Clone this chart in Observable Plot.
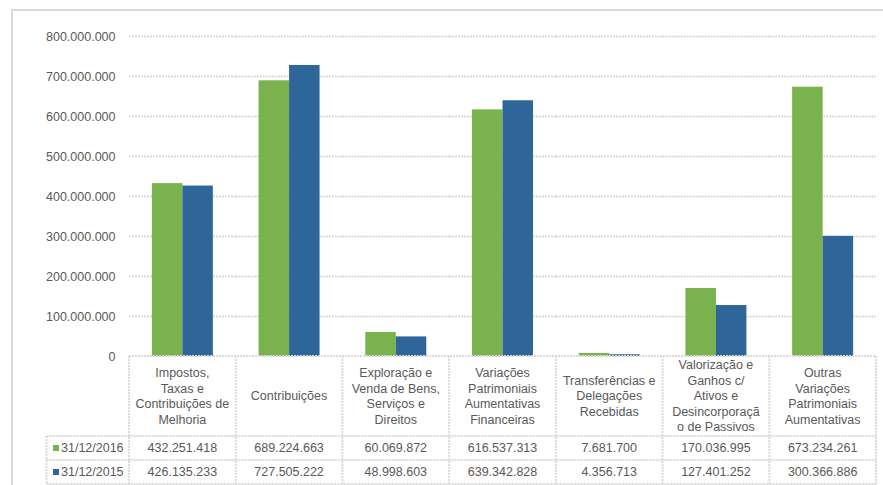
<!DOCTYPE html>
<html>
<head>
<meta charset="utf-8">
<script src="https://cdn.jsdelivr.net/npm/d3@7"></script>
<script src="https://cdn.jsdelivr.net/npm/@observablehq/plot@0.6"></script>
<style>
  html, body { margin: 0; padding: 0; background: #fff; }
  #chart { width: 883px; height: 485px; }
</style>
</head>
<body>
<div id="chart"></div>
<script>
// Variações patrimoniais aumentativas, 2016 x 2015
const categories = [
  "Impostos, Taxas e Contribuições de Melhoria",
  "Contribuições",
  "Exploração e Venda de Bens, Serviços e Direitos",
  "Variações Patrimoniais Aumentativas Financeiras",
  "Transferências e Delegações Recebidas",
  "Valorização e Ganhos c/ Ativos e Desincorporação de Passivos",
  "Outras Variações Patrimoniais Aumentativas"
];
const categoryLines = [
  ["Impostos,", "Taxas e", "Contribuições de", "Melhoria"],
  ["Contribuições"],
  ["Exploração e", "Venda de Bens,", "Serviços e", "Direitos"],
  ["Variações", "Patrimoniais", "Aumentativas", "Financeiras"],
  ["Transferências e", "Delegações", "Recebidas"],
  ["Valorização e", "Ganhos c/", "Ativos e", "Desincorporaçã", "o de Passivos"],
  ["Outras", "Variações", "Patrimoniais", "Aumentativas"]
];
const seriesNames = ["31/12/2016", "31/12/2015"];
const seriesColors = ["#7ab24e", "#2e6699"];
const values2016 = [432251418, 689224663, 60069872, 616537313, 7681700, 170036995, 673234261];
const values2015 = [426135233, 727505222, 48998603, 639342828, 4356713, 127401252, 300366886];
const yTicks = [0, 100000000, 200000000, 300000000, 400000000, 500000000, 600000000, 700000000, 800000000];

const fmt = d => d3.format(",")(d).replace(/,/g, ".");

const data = [];
categories.forEach((c, i) => {
  data.push({cat: c, series: seriesNames[0], value: values2016[i]});
  data.push({cat: c, series: seriesNames[1], value: values2015[i]});
});

const textColor = "#595959";
const lineColor = "#dadada";
const font = "'Liberation Sans', Arial, sans-serif";

const chart = Plot.plot({
  width: 883,
  height: 485,
  marginLeft: 129,
  marginRight: 7,
  marginTop: 36,
  marginBottom: 129,
  style: {fontFamily: font, fontSize: "12.5px", color: textColor, background: "#fff"},
  fx: {domain: categories, padding: 0, round: false, axis: null, label: null},
  x: {domain: seriesNames, paddingInner: 0, paddingOuter: 0.75, round: false, axis: null},
  y: {domain: [0, 800000000], axis: null},
  color: {domain: seriesNames, range: seriesColors},
  marks: [
    Plot.gridY(yTicks.filter(d => d > 0), {stroke: lineColor, strokeOpacity: 1, strokeWidth: 2, strokeDasharray: "2 1"}),
    Plot.axisY(yTicks, {tickSize: 0, tickPadding: 14, tickFormat: fmt, fill: textColor, fontSize: 12.5, label: null}),
    Plot.barY(data, {fx: "cat", x: "series", y: "value", fill: "series"})
  ]
});

document.getElementById("chart").appendChild(chart);

// Data table under the plot, laid out on the same facet and y scales
const svg = d3.select(chart);
const fxs = chart.scale("fx");
const ys = chart.scale("y");
const bw = fxs.bandwidth;
const left = fxs.apply(categories[0]);
const right = fxs.apply(categories[categories.length - 1]) + bw;
const yBase = ys.apply(0);
const headerH = 80, rowH = 24;
const yHead = yBase + headerH;
const yRow1 = yHead + rowH;
const yRow2 = yRow1 + rowH;
const legendLeft = 46.5;

const g = svg.append("g").attr("font-family", font).attr("font-size", 12.5);

// outer frame
g.append("rect").attr("x", 12).attr("y", 10).attr("width", 880).attr("height", 480)
  .attr("fill", "none").attr("stroke", "#d9d9d9").attr("stroke-width", 2);

const hline = (x1, x2, y) => g.append("line").attr("x1", x1).attr("x2", x2).attr("y1", y).attr("y2", y)
  .attr("stroke", lineColor).attr("stroke-width", 2).attr("stroke-dasharray", "2 1");
const vline = (x, y1, y2) => g.append("line").attr("x1", x).attr("x2", x).attr("y1", y1).attr("y2", y2)
  .attr("stroke", lineColor).attr("stroke-width", 2).attr("stroke-dasharray", "2 1");

hline(left, right, yBase);
hline(legendLeft, right, yHead);
hline(legendLeft, right, yRow1);
hline(legendLeft, right, yRow2);
categories.forEach(c => vline(fxs.apply(c), yBase, yRow2));
vline(right, yBase, yRow2);
vline(legendLeft, yHead, yRow2);

// column headers
const lh = 15.5;
categories.forEach((c, i) => {
  const lines = categoryLines[i];
  const cx = fxs.apply(c) + bw / 2;
  const cy = yBase + headerH / 2;
  const t = g.append("text").attr("text-anchor", "middle").attr("fill", textColor);
  lines.forEach((ln, k) => {
    t.append("tspan").attr("x", cx)
      .attr("y", cy + (k - (lines.length - 1) / 2) * lh)
      .attr("dy", "0.35em").text(ln);
  });
});

// value rows with legend keys
[values2016, values2015].forEach((vals, r) => {
  const cy = yHead + rowH * r + rowH / 2;
  categories.forEach((c, i) => {
    g.append("text").attr("x", fxs.apply(c) + bw / 2).attr("y", cy).attr("dy", "0.35em")
      .attr("text-anchor", "middle").attr("fill", textColor).text(fmt(vals[i]));
  });
  g.append("rect").attr("x", 53).attr("y", cy - 3).attr("width", 6).attr("height", 6).attr("fill", seriesColors[r]);
  g.append("text").attr("x", 61).attr("y", cy).attr("dy", "0.35em")
    .attr("text-anchor", "start").attr("fill", textColor).text(seriesNames[r]);
});
</script>
</body>
</html>
